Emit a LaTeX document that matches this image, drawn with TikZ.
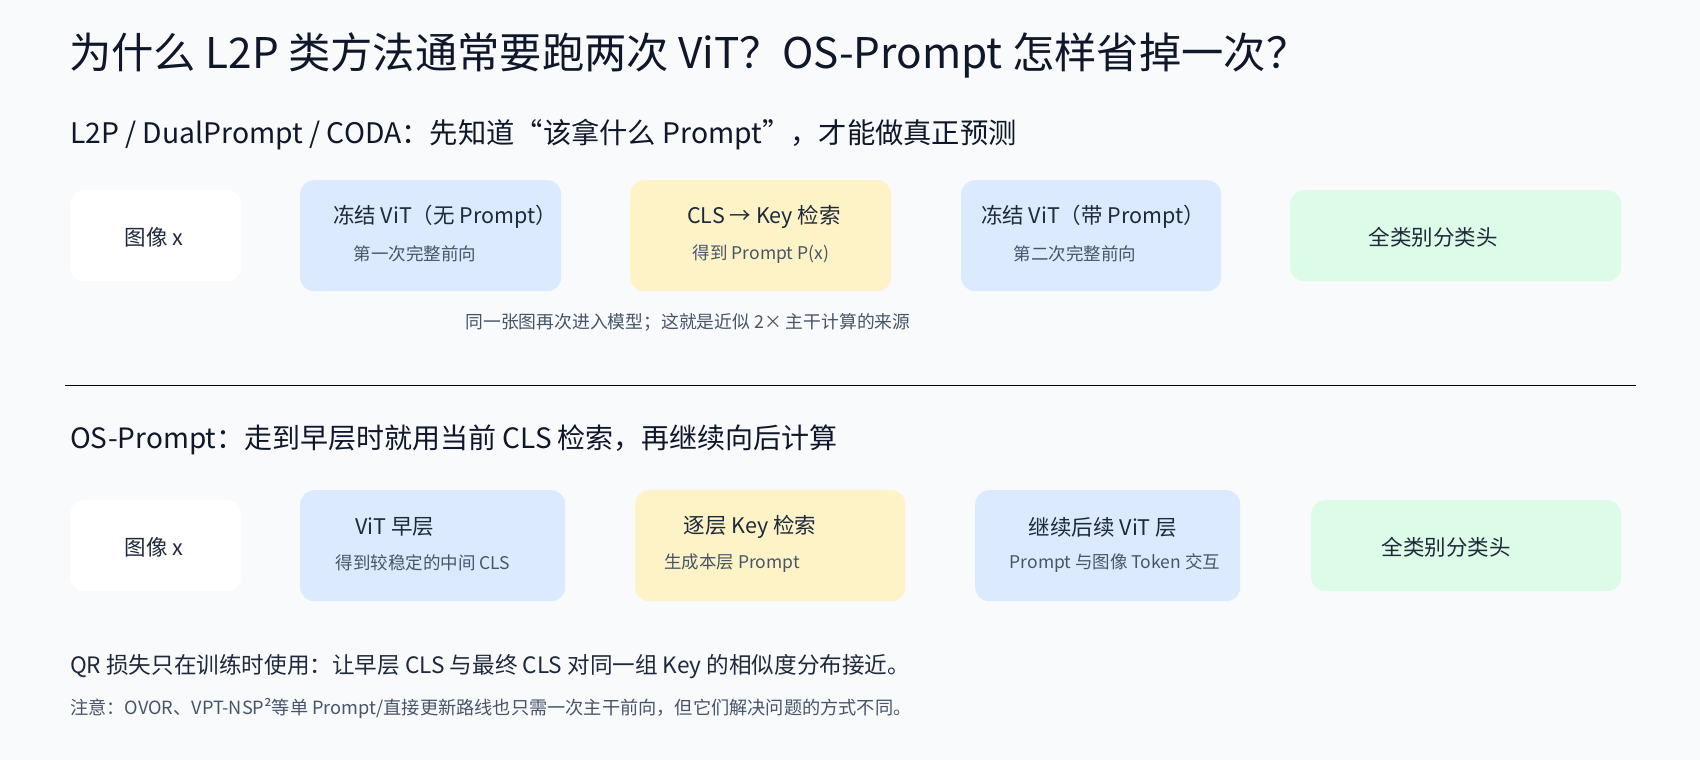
\documentclass[tikz,border=0pt]{standalone}
\usepackage{fontspec}
\setmainfont{Noto Sans CJK SC}
\usetikzlibrary{calc}
\definecolor{pagebg}{HTML}{F8FAFC}
\definecolor{ink}{HTML}{0F172A}
\definecolor{boxink}{HTML}{1E293B}
\definecolor{subink}{HTML}{475569}
\definecolor{frozen}{HTML}{DBEAFE}
\definecolor{lookup}{HTML}{FEF3C7}
\definecolor{headfill}{HTML}{DCFCE7}
\newcommand{\fs}[1]{\fontsize{#1}{#1}\selectfont}

\begin{document}
\begin{tikzpicture}[x=1pt,y=-1pt,
  card/.style={rounded corners=14pt,inner sep=0pt,anchor=north west},
  big/.style={anchor=west,inner sep=0pt,text=ink},
  ttl/.style={inner sep=0pt,text=boxink,font=\fs{21.5}},
  sub/.style={inner sep=0pt,text=subink,font=\fs{17.5}}]
\fill[pagebg] (0,0) rectangle (1700,760);
\useasboundingbox (0,0) rectangle (1700,760);
\node (title) at (69,55) [big,font=\fs{42.3}] {为什么 L2P 类方法通常要跑两次 ViT？OS-Prompt 怎样省掉一次？};
\node (sec1) at (70,135) [big,font=\fs{28.3}] {L2P / DualPrompt / CODA：先知道“该拿什么 Prompt”，才能做真正预测};
\node (img1) at (70,190) [card,fill=white,minimum width=171pt,minimum height=91pt] {};
\node (vit1) at (300,180) [card,fill=frozen,minimum width=261pt,minimum height=111pt] {};
\node (key1) at (630,180) [card,fill=lookup,minimum width=261pt,minimum height=111pt] {};
\node (vitp1) at (961,180) [card,fill=frozen,minimum width=260pt,minimum height=111pt] {};
\node (head1) at (1290,190) [card,fill=headfill,minimum width=331pt,minimum height=91pt] {};
\node at (154,237) [ttl] {图像 x};
\node at (445,217) [ttl] {冻结 ViT（无 Prompt）};
\node at (415,254) [sub] {第一次完整前向};
\node at (764,217) [ttl] {CLS → Key 检索};
\node at (761,254) [sub] {得到 Prompt P(x)};
\node at (1093,217) [ttl] {冻结 ViT（带 Prompt）};
\node at (1075,254) [sub] {第二次完整前向};
\node at (1433,237) [ttl] {全类别分类头};
\node (note1) at (688,322) [sub,text=subink,font=\fs{17.8}] {同一张图再次进入模型；这就是近似 2× 主干计算的来源};
\coordinate (sepL) at (65,385);
\coordinate (sepR) at (1636,385);
\draw[line width=1pt] (sepL) -- (sepR);
\node (sec2) at (70,440) [big,font=\fs{28}] {OS-Prompt：走到早层时就用当前 CLS 检索，再继续向后计算};
\node (img2) at (70,500) [card,fill=white,minimum width=171pt,minimum height=91pt] {};
\node (vit2) at (300,490) [card,fill=frozen,minimum width=265pt,minimum height=111pt] {};
\node (key2) at (635,490) [card,fill=lookup,minimum width=270pt,minimum height=111pt] {};
\node (vit3) at (975,490) [card,fill=frozen,minimum width=265pt,minimum height=111pt] {};
\node (head2) at (1311,500) [card,fill=headfill,minimum width=310pt,minimum height=91pt] {};
\node at (154,547) [ttl] {图像 x};
\node at (395,527) [ttl] {ViT 早层};
\node at (423,563) [sub] {得到较稳定的中间 CLS};
\node at (750,527) [ttl] {逐层 Key 检索};
\node at (732,563) [sub] {生成本层 Prompt};
\node at (1103,527) [ttl] {继续后续 ViT 层};
\node at (1115,563) [sub] {Prompt 与图像 Token 交互};
\node at (1446,547) [ttl] {全类别分类头};
\node (qr) at (70,667) [big,text=boxink,font=\fs{22.6}] {QR 损失只在训练时使用：让早层 CLS 与最终 CLS 对同一组 Key 的相似度分布接近。};
\node (note2) at (70,708) [big,text=subink,font=\fs{18.2}] {注意：OVOR、VPT-NSP²等单 Prompt/直接更新路线也只需一次主干前向，但它们解决问题的方式不同。};
\end{tikzpicture}
\end{document}
